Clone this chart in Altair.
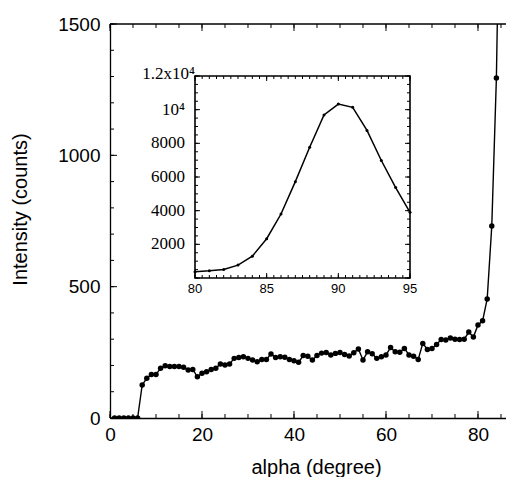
import altair as alt
import pandas as pd

# ---- main data (alpha in degrees, intensity in counts) ----
main_alpha = list(range(1, 86))
main_counts = [0, 0, 0, 0, 0, 0, 126, 151, 166, 166, 189, 199, 196, 196, 196, 193, 183, 185, 157, 170,
               176, 185, 189, 206, 202, 206, 227, 230, 233, 227, 221, 214, 223, 223, 244, 230, 233, 231, 223, 218,
               212, 238, 235, 221, 238, 247, 249, 240, 246, 249, 242, 236, 248, 263, 221, 252, 245, 227, 233, 240,
               268, 252, 250, 265, 240, 235, 223, 284, 261, 265, 280, 299, 297, 305, 300, 299, 300, 327, 308, 354,
               370, 453, 731, 1294, 2333]

# ---- inset data ----
inset_alpha = list(range(80, 96))
inset_counts = [370, 430, 510, 765, 1294, 2333, 3800, 5725, 7765, 9686, 10333, 10137, 8765, 6980, 5372, 3902]

# ---- tick labels ----
main_x_labels = [0, 20, 40, 60, 80]
main_y_labels = [0, 500, 1000, 1500]
inset_x_labels = [80, 85, 90, 95]
inset_y_vals = [2000, 4000, 6000, 8000, 10000]
inset_y_text = ["2000", "4000", "6000", "8000", "10\u2074"]
inset_top_val = [12000]
inset_top_text = ["1.2x10\u2074"]

W, H = 396, 394
SANS = "Liberation Sans"
SERIF = "Liberation Serif"

xs = alt.Scale(domain=[0, 86.09], nice=False, zero=False)
ys = alt.Scale(domain=[0, 1500], nice=False, zero=False)
ixs = alt.Scale(domain=[80, 95], range=[85, 300], nice=False, zero=False)
iys = alt.Scale(domain=[0, 12000], range=[254, 52], nice=False, zero=False)

main_df = pd.DataFrame({"alpha": main_alpha, "counts": main_counts})
inset_df = pd.DataFrame({"alpha": inset_alpha, "counts": inset_counts})
one = pd.DataFrame({"d": [0]})

main_line = alt.Chart(main_df).mark_line(color="black", strokeWidth=1.4, clip=True).encode(
    x=alt.X("alpha:Q", scale=xs, axis=alt.Axis(
        values=main_x_labels, title="alpha (degree)", ticks=False, tickSize=0, grid=False,
        labelPadding=7, labelFontSize=19, labelFont=SANS, labelColor="black",
        labelFlush=False, labelOverlap=False, format="d",
        domainColor="black", domainWidth=1.3,
        titleFont=SANS, titleFontSize=20, titleFontWeight="normal", titleColor="black",
        titleX=206, titleY=55, titleBaseline="alphabetic", titleAlign="center")),
    y=alt.Y("counts:Q", scale=ys, axis=alt.Axis(
        values=main_y_labels, title="Intensity (counts)", ticks=False, tickSize=0, grid=False,
        labelPadding=10, labelFontSize=19, labelFont=SANS, labelColor="black",
        labelFlush=False, labelOverlap=False, format="d",
        domainColor="black", domainWidth=1.3,
        titleFont=SANS, titleFontSize=20, titleFontWeight="normal", titleColor="black",
        titleX=-84, titleY=185, titleAngle=270, titleBaseline="alphabetic", titleAlign="center")),
)

main_pts = alt.Chart(main_df).mark_circle(color="black", size=30, opacity=1, clip=True).encode(
    x=alt.X("alpha:Q", scale=xs, axis=None),
    y=alt.Y("counts:Q", scale=ys, axis=None),
)


def vrules(vals, scale, y0, y1, w=1.0):
    return alt.Chart(pd.DataFrame({"t": vals})).mark_rule(color="black", strokeWidth=w).encode(
        x=alt.X("t:Q", scale=scale, axis=None), y=alt.value(y0), y2=alt.value(y1))


def hrules(vals, scale, x0, x1, w=1.0):
    return alt.Chart(pd.DataFrame({"t": vals})).mark_rule(color="black", strokeWidth=w).encode(
        y=alt.Y("t:Q", scale=scale, axis=None), x=alt.value(x0), x2=alt.value(x1))


mx_minor = list(range(0, 90, 5))
my_minor = list(range(0, 1600, 100))

main_ticks = [
    vrules(mx_minor, xs, H, H - 4),
    vrules(main_x_labels, xs, H, H - 7),
    vrules(mx_minor, xs, 0, 4),
    vrules(main_x_labels, xs, 0, 7),
    hrules(my_minor, ys, 0, 4),
    hrules(main_y_labels, ys, 0, 7),
]

top_line = alt.Chart(one).mark_rule(color="black", strokeWidth=1.3).encode(
    x=alt.value(0), x2=alt.value(W), y=alt.value(0))

inset_box = alt.Chart(one).mark_rect(fill="white", stroke="black", strokeWidth=1.6).encode(
    x=alt.value(85), x2=alt.value(300), y=alt.value(52), y2=alt.value(254))

inset_line = alt.Chart(inset_df).mark_line(color="black", strokeWidth=1.5).encode(
    x=alt.X("alpha:Q", scale=ixs, axis=None),
    y=alt.Y("counts:Q", scale=iys, axis=None),
)
inset_pts = alt.Chart(inset_df).mark_circle(color="black", size=9, opacity=1).encode(
    x=alt.X("alpha:Q", scale=ixs, axis=None),
    y=alt.Y("counts:Q", scale=iys, axis=None),
)

ix_minor = [80 + 0.5 * i for i in range(31)]
iy_minor = list(range(0, 12500, 500))
iy_major = list(range(0, 14000, 2000))

inset_ticks = [
    vrules(ix_minor, ixs, 254, 251),
    vrules(inset_x_labels, ixs, 254, 249),
    vrules(ix_minor, ixs, 52, 55),
    vrules(inset_x_labels, ixs, 52, 57),
    hrules(iy_minor, iys, 85, 88),
    hrules(iy_major, iys, 85, 90),
    hrules(iy_minor, iys, 300, 297),
    hrules(iy_major, iys, 300, 295),
]

inset_xlab = alt.Chart(pd.DataFrame({"v": inset_x_labels, "s": [str(v) for v in inset_x_labels]})).mark_text(
    font=SANS, fontSize=13, color="black", align="center", baseline="top").encode(
    x=alt.X("v:Q", scale=ixs, axis=None), y=alt.value(259), text="s:N")

inset_ylab = alt.Chart(pd.DataFrame({"v": inset_y_vals, "s": inset_y_text})).mark_text(
    font=SERIF, fontSize=17, color="black", align="right", baseline="middle").encode(
    y=alt.Y("v:Q", scale=iys, axis=None), x=alt.value(75), text="s:N")

inset_toplab = alt.Chart(pd.DataFrame({"v": inset_top_val, "s": inset_top_text})).mark_text(
    font=SERIF, fontSize=17, color="black", align="right", baseline="middle", dy=-2).encode(
    y=alt.Y("v:Q", scale=iys, axis=None), x=alt.value(85), text="s:N")

chart = alt.layer(
    main_line, main_pts, *main_ticks, top_line,
    inset_box, inset_line, inset_pts, *inset_ticks, inset_xlab, inset_ylab, inset_toplab,
).resolve_scale(x="independent", y="independent").properties(
    width=W, height=H,
    padding={"left": 102, "top": 16, "right": 0, "bottom": 59},
    autosize=alt.AutoSizeParams(type="none"),
    background="white",
).configure_view(stroke=None)

chart.save("out.html", embed_options={"renderer": "svg", "actions": False})
